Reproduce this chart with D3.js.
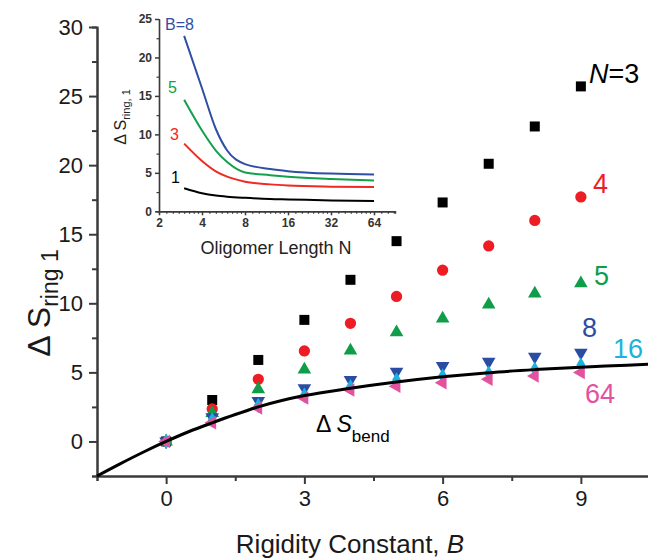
<!DOCTYPE html>
<html>
<head>
<meta charset="utf-8">
<script src="https://cdn.jsdelivr.net/npm/d3@7"></script>
<style>
  html, body { margin: 0; padding: 0; background: #fff; }
  svg { display: block; font-family: "Liberation Sans", Arial, sans-serif; }
</style>
</head>
<body>
<div id="chart"></div>
<script>
// main plot: entropy vs rigidity constant B, one series per oligomer length N
var bValues = [0, 1, 2, 3, 4, 5, 6, 7, 8, 9];
var sN3  = [0, 3.0, 5.9, 8.8, 11.7, 14.5, 17.3, 20.1, 22.8, 25.7];
var sN4  = [0, 2.35, 4.5, 6.55, 8.55, 10.5, 12.4, 14.15, 16.0, 17.7];
var sN5  = [0, 2.05, 3.78, 5.2, 6.57, 7.9, 8.9, 9.9, 10.7, 11.45];
var sN8  = [0, 1.75, 2.93, 3.85, 4.45, 5.05, 5.46, 5.78, 6.14, 6.43];
var sN16 = [0, 1.55, 2.6, 3.35, 3.95, 4.45, 4.74, 4.94, 5.22, 5.53];
var sN64 = [0, 1.35, 2.42, 3.15, 3.73, 4.0, 4.25, 4.5, 4.74, 5.0];

// bend entropy curve
var bendB = [-1.5, -1, -0.5, 0, 0.5, 1, 1.5, 2, 3, 4, 5, 6, 7, 8, 9, 10, 10.5];
var bendS = [-2.5, -1.62, -0.78, 0, 0.72, 1.35, 1.95, 2.5, 3.32, 3.85, 4.3, 4.68, 4.98, 5.2, 5.38, 5.52, 5.6];

var xTicks = [0, 3, 6, 9];
var yTicks = [0, 5, 10, 15, 20, 25, 30];

// inset: entropy vs oligomer length for several B
var insetN  = [3, 4, 5, 6, 8, 12, 16, 32, 64];
var insetB1 = [3.0, 2.35, 2.05, 1.9, 1.75, 1.6, 1.55, 1.42, 1.35];
var insetB3 = [8.8, 6.55, 5.2, 4.5, 3.85, 3.5, 3.35, 3.2, 3.15];
var insetB5 = [14.5, 10.5, 7.9, 6.4, 5.05, 4.7, 4.5, 4.2, 4.0];
var insetB8 = [22.8, 16.0, 10.7, 7.9, 6.14, 5.5, 5.22, 4.9, 4.8];
var insetXTicks = [2, 4, 8, 16, 32, 64];
var insetYTicks = [0, 5, 10, 15, 20, 25];

var series = [
	{ label: "3",  vals: sN3,  color: "#000000", sym: d3.symbolSquare,   size: 100, rot: 0 },
	{ label: "4",  vals: sN4,  color: "#ee1c24", sym: d3.symbolCircle,   size: 100, rot: 0 },
	{ label: "5",  vals: sN5,  color: "#0f9d4a", sym: d3.symbolTriangle, size: 80,  rot: 0 },
	{ label: "8",  vals: sN8,  color: "#2a4da3", sym: d3.symbolTriangle, size: 80,  rot: 180 },
	{ label: "16", vals: sN16, color: "#1bb3dd", sym: d3.symbolDiamond,  size: 70,  rot: 0 },
	{ label: "64", vals: sN64, color: "#e2529f", sym: d3.symbolTriangle, size: 80,  rot: -90 }
];

var insetSeries = [
	{ vals: insetB1, color: "#000000" },
	{ vals: insetB3, color: "#ee2a24" },
	{ vals: insetB5, color: "#13a04b" },
	{ vals: insetB8, color: "#2e4fa5" }
];

var axisColor = "#3a3a3a";

var svg = d3.select("#chart").append("svg")
	.attr("width", 648)
	.attr("height", 559);

var x = d3.scaleLinear().domain([-1.5, 10.5]).range([97, 650]);
var y = d3.scaleLinear().domain([-2.5, 30]).range([476, 27]);

function styleAxis(g, w) {
	g.select(".domain").attr("stroke", axisColor).attr("stroke-width", w);
	g.selectAll(".tick line").attr("stroke", axisColor).attr("stroke-width", w);
}

// minor ticks first, then the major axis on top
var gxMinor = svg.append("g")
	.attr("transform", "translate(0,476)")
	.call(d3.axisBottom(x).tickValues([-1.5, 1.5, 4.5, 7.5, 10.5]).tickSize(5).tickFormat(""));
styleAxis(gxMinor, 2);

var gx = svg.append("g")
	.attr("transform", "translate(0,476)")
	.call(d3.axisBottom(x).tickValues(xTicks).tickSize(8).tickSizeOuter(0).tickPadding(6));
styleAxis(gx, 2);
gx.selectAll(".tick text")
	.attr("fill", "#1a1a1a")
	.style("font-size", "22px");

var gyMinor = svg.append("g")
	.attr("transform", "translate(97,0)")
	.call(d3.axisLeft(y).tickValues([-2.5, 2.5, 7.5, 12.5, 17.5, 22.5, 27.5]).tickSize(5).tickFormat(""));
styleAxis(gyMinor, 2);

var gy = svg.append("g")
	.attr("transform", "translate(97,0)")
	.call(d3.axisLeft(y).tickValues(yTicks).tickSize(8).tickSizeOuter(0).tickPadding(6));
styleAxis(gy, 2);
gy.selectAll(".tick text")
	.attr("fill", "#1a1a1a")
	.style("font-size", "22px");

// axis titles
var xt = svg.append("text")
	.attr("x", 350)
	.attr("y", 553)
	.attr("text-anchor", "middle")
	.attr("fill", "#1a1a1a")
	.style("font-size", "26px");
xt.append("tspan").text("Rigidity Constant, ");
xt.append("tspan").style("font-style", "italic").text("B");

var yt = svg.append("text")
	.attr("transform", "translate(50,303) rotate(-90)")
	.attr("text-anchor", "middle")
	.attr("fill", "#1a1a1a")
	.style("font-size", "32px");
yt.append("tspan").text("\u0394 S");
yt.append("tspan").attr("dy", 8).style("font-size", "23px").text("ring 1");

// markers
series.forEach(function (s) {
	svg.append("g").selectAll("path")
		.data(bValues)
		.enter().append("path")
		.attr("d", d3.symbol().type(s.sym).size(s.size))
		.attr("transform", function (d, i) {
			return "translate(" + x(d) + "," + y(s.vals[i]) + ") rotate(" + s.rot + ")";
		})
		.attr("fill", s.color);
});

// bend curve
var bendLine = d3.line()
	.x(function (d, i) { return x(bendB[i]); })
	.y(function (d) { return y(d); })
	.curve(d3.curveMonotoneX);

svg.append("path")
	.attr("d", bendLine(bendS))
	.attr("fill", "none")
	.attr("stroke", "#000")
	.attr("stroke-width", 3);

// series labels
var n3 = svg.append("text").attr("x", 589).attr("y", 83).style("font-size", "27px").attr("fill", "#000");
n3.append("tspan").style("font-style", "italic").text("N");
n3.append("tspan").text("=3");

var lbls = [
	{ t: "4",  x: 593, y: 193, c: series[1].color },
	{ t: "5",  x: 594, y: 285, c: series[2].color },
	{ t: "8",  x: 582, y: 337, c: series[3].color },
	{ t: "16", x: 613, y: 358, c: series[4].color },
	{ t: "64", x: 585, y: 403, c: series[5].color }
];
svg.selectAll("text.lbl")
	.data(lbls).enter().append("text")
	.attr("class", "lbl")
	.attr("x", function (d) { return d.x; })
	.attr("y", function (d) { return d.y; })
	.attr("fill", function (d) { return d.c; })
	.style("font-size", "27px")
	.text(function (d) { return d.t; });

var bl = svg.append("text").attr("x", 316).attr("y", 432).attr("fill", "#000").style("font-size", "23px");
bl.append("tspan").text("\u0394 ");
bl.append("tspan").style("font-style", "italic").text("S");
bl.append("tspan").attr("dy", 10).style("font-size", "17px").text("bend");

// ---- inset ----
var xi = d3.scaleLog().base(2).domain([2, 90]).range([159, 159 + 43 * Math.log2(45)]);
var yi = d3.scaleLinear().domain([0, 25]).range([211.3, 19]);

var insetMinor = [];
insetXTicks.forEach(function (a) {
	for (var k = 1; k < 8; k++) {
		var v = a + k * a / 8;
		if (v < 90) insetMinor.push(v);
	}
});

var gxiMinor = svg.append("g")
	.attr("transform", "translate(0,211.3)")
	.call(d3.axisBottom(xi).tickValues(insetMinor).tickSize(2.5).tickFormat(""));
styleAxis(gxiMinor, 1.2);

var gxi = svg.append("g")
	.attr("transform", "translate(0,211.3)")
	.call(d3.axisBottom(xi).tickValues(insetXTicks).tickSize(4).tickSizeOuter(0).tickPadding(3).tickFormat(d3.format("d")));
styleAxis(gxi, 1.5);
gxi.selectAll(".tick text")
	.attr("fill", "#333")
	.style("font-size", "12px")
	.style("font-weight", "bold");

var gyiMinor = svg.append("g")
	.attr("transform", "translate(159,0)")
	.call(d3.axisLeft(yi).tickValues([2.5, 7.5, 12.5, 17.5, 22.5]).tickSize(2.5).tickFormat(""));
styleAxis(gyiMinor, 1.2);

var gyi = svg.append("g")
	.attr("transform", "translate(159,0)")
	.call(d3.axisLeft(yi).tickValues(insetYTicks).tickSize(4).tickSizeOuter(0).tickPadding(3));
styleAxis(gyi, 1.5);
gyi.selectAll(".tick text")
	.attr("fill", "#333")
	.style("font-size", "12px")
	.style("font-weight", "bold");

var insetLine = d3.line()
	.x(function (d, i) { return xi(insetN[i]); })
	.y(function (d) { return yi(d); })
	.curve(d3.curveMonotoneX);

insetSeries.forEach(function (s) {
	svg.append("path")
		.attr("d", insetLine(s.vals))
		.attr("fill", "none")
		.attr("stroke", s.color)
		.attr("stroke-width", 2);
});

svg.append("text")
	.attr("x", 276).attr("y", 254)
	.attr("text-anchor", "middle")
	.attr("fill", "#222")
	.style("font-size", "18px")
	.text("Oligomer Length N");

var yti = svg.append("text")
	.attr("transform", "translate(126,117) rotate(-90)")
	.attr("text-anchor", "middle")
	.attr("fill", "#222")
	.style("font-size", "16px");
yti.append("tspan").text("\u0394 S");
yti.append("tspan").attr("dy", 4).style("font-size", "11px").text("ring, 1");

var insetLbls = [
	{ t: "B=8", x: 165, y: 30,  c: insetSeries[3].color },
	{ t: "5",   x: 168, y: 93,  c: insetSeries[2].color },
	{ t: "3",   x: 170, y: 140, c: insetSeries[1].color },
	{ t: "1",   x: 171, y: 183, c: insetSeries[0].color }
];
svg.selectAll("text.ilbl")
	.data(insetLbls).enter().append("text")
	.attr("class", "ilbl")
	.attr("x", function (d) { return d.x; })
	.attr("y", function (d) { return d.y; })
	.attr("fill", function (d) { return d.c; })
	.style("font-size", "16px")
	.text(function (d) { return d.t; });
</script>
</body>
</html>
